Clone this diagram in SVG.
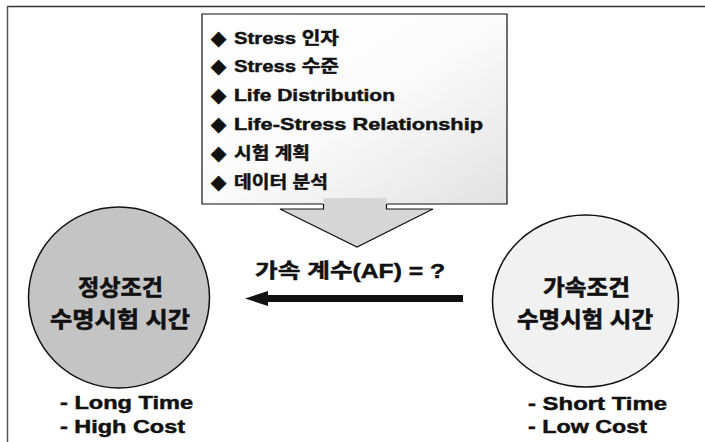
<svg xmlns="http://www.w3.org/2000/svg" width="705" height="442" viewBox="0 0 705 442">
<style>
.t{font-family:"Liberation Sans","Noto Sans CJK KR",sans-serif;font-weight:bold;fill:#111;stroke:#111;stroke-width:0.45px;}
.li{font-size:17px;}
.bul{font-family:"DejaVu Sans",sans-serif;font-size:21px;fill:#111;}
.ck{font-size:22px;text-anchor:middle;stroke-width:0.6px;}
.ft{font-size:17.5px;}
.edge{stroke:#111;stroke-width:1.5;}
</style>
<defs>
<linearGradient id="boxg" x1="0" y1="0" x2="1" y2="1">
<stop offset="0" stop-color="#ffffff"/>
<stop offset="0.5" stop-color="#fbfbfb"/>
<stop offset="1" stop-color="#e2e2e2"/>
</linearGradient>
<marker id="ah" markerUnits="userSpaceOnUse" markerWidth="23" markerHeight="15" viewBox="0 0 23 15" refX="2" refY="7.5" orient="auto">
<path d="M0,0 L23,7.5 L0,15 z" fill="#111"/>
</marker>
</defs>
<rect width="705" height="442" fill="#fff"/>
<g id="frame">
<line x1="7" y1="6.5" x2="705" y2="6.5" stroke="#333" stroke-width="1.5"/>
<line x1="7.5" y1="6" x2="7.5" y2="442" stroke="#555" stroke-width="1.5"/>
</g>
<g id="factors">
<rect x="202" y="14" width="305" height="190" fill="url(#boxg)"/>
<path d="M323,204 H202 V14 H507 V204 H387" fill="none" stroke="#111" stroke-width="1.2"/>
<text class="bul" x="210.5" y="44.5">◆</text>
<text class="t li" x="234" y="43.5" textLength="105" lengthAdjust="spacingAndGlyphs">Stress 인자</text>
<text class="bul" x="210.5" y="73.3">◆</text>
<text class="t li" x="234" y="72.3" textLength="105" lengthAdjust="spacingAndGlyphs">Stress 수준</text>
<text class="bul" x="210.5" y="102">◆</text>
<text class="t li" x="234" y="101" textLength="161" lengthAdjust="spacingAndGlyphs">Life Distribution</text>
<text class="bul" x="210.5" y="131">◆</text>
<text class="t li" x="234" y="130" textLength="249" lengthAdjust="spacingAndGlyphs">Life-Stress Relationship</text>
<text class="bul" x="210.5" y="160">◆</text>
<text class="t li" x="234" y="159" textLength="76" lengthAdjust="spacingAndGlyphs">시험 계획</text>
<text class="bul" x="210.5" y="189">◆</text>
<text class="t li" x="234" y="188" textLength="94" lengthAdjust="spacingAndGlyphs">데이터 분석</text>
</g>
<g id="normal">
<circle cx="119" cy="297.5" r="90.5" fill="#c4c4c4" class="edge"/>
<text class="t ck" x="120.5" y="295" textLength="85" lengthAdjust="spacingAndGlyphs">정상조건</text>
<text class="t ck" x="120" y="327" textLength="140" lengthAdjust="spacingAndGlyphs">수명시험 시간</text>
<text class="t ft" x="60" y="408.5" textLength="133" lengthAdjust="spacingAndGlyphs">- Long Time</text>
<text class="t ft" x="60" y="432.5" textLength="125" lengthAdjust="spacingAndGlyphs">- High Cost</text>
</g>
<g id="accelerated">
<ellipse cx="585.5" cy="301" rx="93" ry="86" fill="#f1f1f1" class="edge"/>
<text class="t ck" x="586.5" y="295" textLength="87" lengthAdjust="spacingAndGlyphs">가속조건</text>
<text class="t ck" x="585" y="327" textLength="136" lengthAdjust="spacingAndGlyphs">수명시험 시간</text>
<text class="t ft" x="528" y="409.5" textLength="139" lengthAdjust="spacingAndGlyphs">- Short Time</text>
<text class="t ft" x="528" y="432.5" textLength="119" lengthAdjust="spacingAndGlyphs">- Low Cost</text>
</g>
<g id="connectors">
<path d="M323.5,198 V209 H280 L357,247 L433,209 H386.5 V198" fill="#d6d6d6" stroke="none"/>
<path d="M323.5,204 V209 H280 L357,247 L433,209 H386.5 V204" fill="none" stroke="#111" stroke-width="1.2"/>
<line x1="463" y1="298.5" x2="266" y2="298.5" stroke="#111" stroke-width="7" marker-end="url(#ah)"/>
<text class="t" x="350" y="278" font-size="20" text-anchor="middle" textLength="190" lengthAdjust="spacingAndGlyphs">가속 계수(AF) = ?</text>
</g>
</svg>
